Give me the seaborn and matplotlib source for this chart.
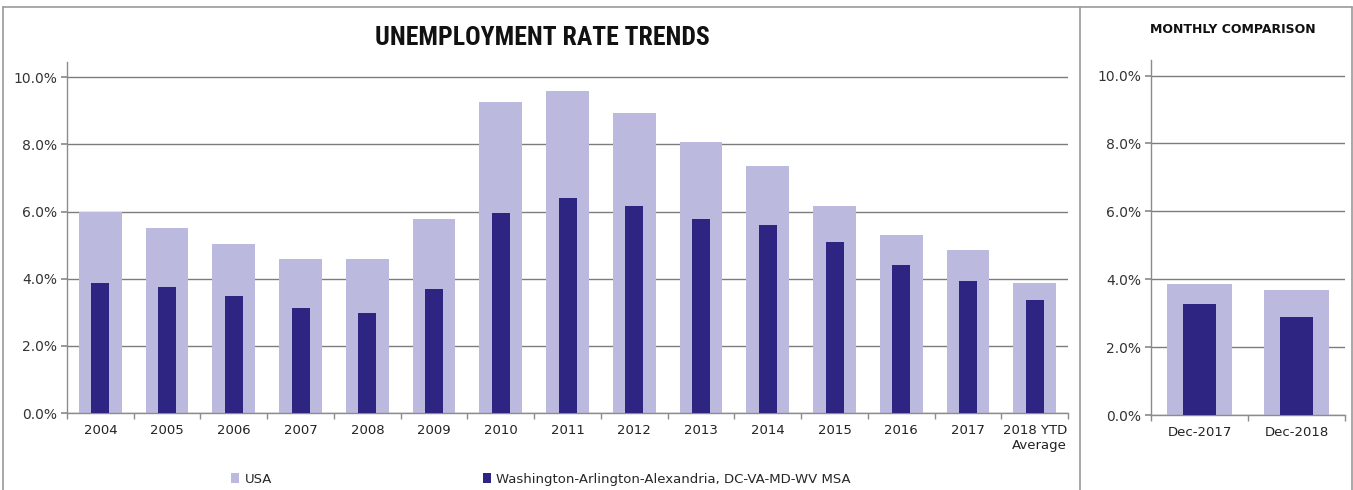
import matplotlib
matplotlib.use("Agg")
import matplotlib.pyplot as plt
import seaborn as sns
import pandas as pd
from matplotlib.patches import Patch
from matplotlib.lines import Line2D
from matplotlib.ticker import FuncFormatter, FixedLocator

# ---- data ----
years = ["2004", "2005", "2006", "2007", "2008", "2009", "2010", "2011", "2012",
         "2013", "2014", "2015", "2016", "2017", "2018 YTD\nAverage"]
usa = [6.0, 5.5, 5.05, 4.6, 4.6, 5.77, 9.26, 9.6, 8.93, 8.07, 7.35, 6.16, 5.3, 4.85, 3.87]
msa = [3.87, 3.75, 3.48, 3.12, 2.97, 3.69, 5.95, 6.4, 6.16, 5.77, 5.6, 5.09, 4.4, 3.93, 3.36]

months = ["Dec-2017", "Dec-2018"]
usa_m = [3.86, 3.68]
msa_m = [3.27, 2.88]

USA_COLOR = "#bcb9de"
MSA_COLOR = "#2d2581"
GRID = "#7c7c7c"

sns.set_theme(style="white")
plt.rcParams["font.family"] = ["DejaVu Sans"]

fig = plt.figure(figsize=(13.53, 4.9), dpi=100)
ax1 = fig.add_axes([0.0495, 0.157, 0.740, 0.716])
ax2 = fig.add_axes([0.8507, 0.153, 0.1434, 0.724])

df1 = pd.DataFrame({"cat": years, "usa": usa, "msa": msa})
df2 = pd.DataFrame({"cat": months, "usa": usa_m, "msa": msa_m})

def style(ax, df, wu, wm):
    sns.barplot(data=df, x="cat", y="usa", color=USA_COLOR, width=wu, ax=ax,
                saturation=1, zorder=2, linewidth=0, edgecolor="none")
    sns.barplot(data=df, x="cat", y="msa", color=MSA_COLOR, width=wm, ax=ax,
                saturation=1, zorder=3, linewidth=0, edgecolor="none")
    n = len(df)
    ax.set_xlim(-0.5, n - 0.5)
    ax.set_ylim(0, 10.45)
    ax.set_yticks([0, 2, 4, 6, 8, 10])
    ax.yaxis.set_major_formatter(FuncFormatter(lambda v, p: f"{v:.1f}%"))
    ax.yaxis.grid(True, color=GRID, lw=1.0, zorder=1)
    ax.set_axisbelow(True)
    ax.set_xlabel("")
    ax.set_ylabel("")
    for s in ["top", "right"]:
        ax.spines[s].set_visible(False)
    for s in ["left", "bottom"]:
        ax.spines[s].set_color("#8c8c8c")
        ax.spines[s].set_linewidth(1.0)
    ax.xaxis.set_minor_locator(FixedLocator([i - 0.5 for i in range(n + 1)]))
    ax.tick_params(axis="x", which="major", length=0, labelsize=9.5, pad=8,
                   colors="#222222")
    ax.tick_params(axis="x", which="minor", length=4, color="#8c8c8c",
                   direction="out", bottom=True)
    ax.tick_params(axis="y", which="major", length=4, color="#8c8c8c",
                   direction="out", left=True, labelsize=10, colors="#333333",
                   pad=3)

style(ax1, df1, 0.64, 0.27)
style(ax2, df2, 0.67, 0.34)

for lbl in ax1.get_xticklabels():
    lbl.set_multialignment("right")

fig.text(0.4006, 0.922, "UNEMPLOYMENT RATE TRENDS", ha="center", va="center",
         fontsize=18.5, fontweight="bold",
         family=["Liberation Sans Narrow", "Roboto Condensed", "DejaVu Sans Condensed", "Roboto"],
         color="#111111")
fig.text(0.911, 0.939, "MONTHLY COMPARISON", ha="center", va="center",
         fontsize=9, fontweight="bold", color="#111111")

handles = [Patch(facecolor=USA_COLOR, edgecolor="none"),
           Patch(facecolor=MSA_COLOR, edgecolor="none")]
fig.legend(handles, ["USA", "Washington-Arlington-Alexandria, DC-VA-MD-WV MSA"],
           loc="center", bbox_to_anchor=(0.400, 0.022), ncol=2, frameon=False,
           fontsize=9.5, handlelength=0.6, handleheight=0.8, handletextpad=0.4,
           columnspacing=16)

# frame and divider
fig.add_artist(Line2D([0.002, 0.999], [0.986, 0.986], color="#999999", lw=1.2,
                      transform=fig.transFigure))
fig.add_artist(Line2D([0.002, 0.002], [0.0, 0.986], color="#999999", lw=1.2,
                      transform=fig.transFigure))
fig.add_artist(Line2D([0.999, 0.999], [0.0, 0.986], color="#999999", lw=1.2,
                      transform=fig.transFigure))
fig.add_artist(Line2D([0.798, 0.798], [0.0, 0.986], color="#999999", lw=1.2,
                      transform=fig.transFigure))

fig.savefig("out.png", dpi=100)
